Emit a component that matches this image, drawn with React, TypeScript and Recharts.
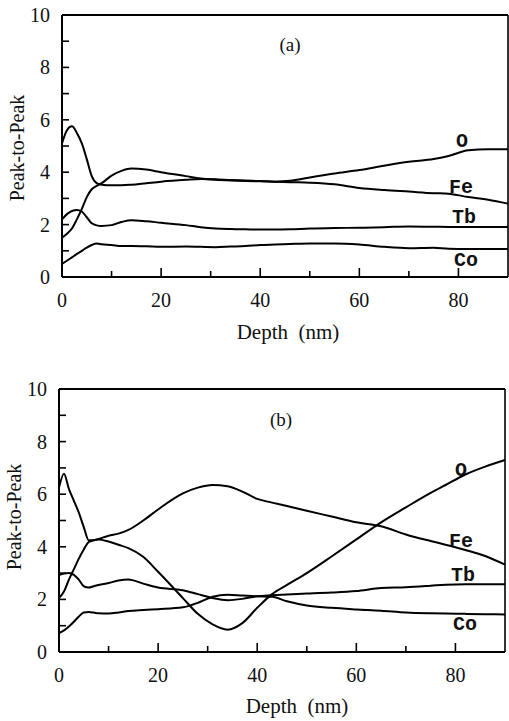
import { LineChart, Line, XAxis, YAxis, ReferenceLine } from "recharts"

const depth = [0, 1, 2, 3, 4, 5, 6, 7, 8, 10, 12, 14, 17, 20, 25, 28, 31, 34, 37, 40, 43, 46, 50, 55, 60, 65, 70, 75, 78, 82, 86, 90]

// panel (a)
const oA = [1.5, 1.65, 1.85, 2.2, 2.6, 3.05, 3.35, 3.48, 3.58, 3.87, 4.05, 4.14, 4.1, 4.0, 3.85, 3.76, 3.71, 3.68, 3.66, 3.65, 3.64, 3.67, 3.8, 3.95, 4.08, 4.25, 4.4, 4.5, 4.62, 4.84, 4.88, 4.88]
const feA = [5.1, 5.6, 5.75, 5.5, 5.1, 4.5, 3.85, 3.58, 3.52, 3.5, 3.5, 3.52, 3.58, 3.64, 3.71, 3.74, 3.73, 3.7, 3.68, 3.66, 3.64, 3.62, 3.6, 3.54, 3.4, 3.32, 3.26, 3.2, 3.18, 3.05, 2.95, 2.8]
const tbA = [2.2, 2.4, 2.52, 2.56, 2.5, 2.28, 2.05, 1.97, 1.95, 1.98, 2.1, 2.17, 2.13, 2.07, 1.98, 1.9, 1.85, 1.83, 1.82, 1.81, 1.81, 1.82, 1.85, 1.87, 1.88, 1.9, 1.93, 1.92, 1.91, 1.91, 1.91, 1.91]
const coA = [0.5, 0.62, 0.75, 0.88, 1.0, 1.12, 1.22, 1.28, 1.25, 1.22, 1.18, 1.18, 1.17, 1.15, 1.16, 1.15, 1.14, 1.16, 1.18, 1.22, 1.24, 1.26, 1.28, 1.28, 1.24, 1.15, 1.1, 1.12, 1.08, 1.07, 1.07, 1.07]

// panel (b)
const oB = [2.05, 2.3, 2.75, 3.15, 3.55, 3.9, 4.18, 4.25, 4.28, 4.2, 4.08, 3.95, 3.62, 3.05, 2.05, 1.45, 1.05, 0.85, 1.1, 1.68, 2.2, 2.55, 3.0, 3.63, 4.28, 4.93, 5.5, 6.05, 6.35, 6.75, 7.05, 7.3]
const feB = [6.25, 6.78, 6.2, 5.75, 5.3, 4.75, 4.25, 4.25, 4.3, 4.42, 4.5, 4.64, 5.0, 5.42, 6.03, 6.25, 6.35, 6.3, 6.1, 5.82, 5.68, 5.55, 5.37, 5.15, 4.93, 4.78, 4.47, 4.22, 4.08, 3.88, 3.65, 3.32]
const tbB = [2.93, 2.98, 3.0, 2.93, 2.75, 2.5, 2.45, 2.5, 2.55, 2.62, 2.72, 2.76, 2.6, 2.45, 2.35, 2.2, 2.05, 1.97, 2.02, 2.12, 2.16, 2.19, 2.22, 2.26, 2.32, 2.43, 2.46, 2.52, 2.56, 2.58, 2.58, 2.58]
const coB = [0.72, 0.82, 0.97, 1.15, 1.35, 1.5, 1.52, 1.5, 1.47, 1.46, 1.5, 1.56, 1.6, 1.63, 1.7, 1.87, 2.1, 2.18, 2.15, 2.12, 2.1, 1.93, 1.77, 1.68, 1.62, 1.57, 1.5, 1.47, 1.46, 1.45, 1.44, 1.43]

const xTicks = [0, 10, 20, 30, 40, 50, 60, 70, 80]
const xLabels = [0, 20, 40, 60, 80]
const yTicks = [0, 1, 2, 3, 4, 5, 6, 7, 8, 9, 10]
const yLabels = [0, 2, 4, 6, 8, 10]

const serifStyle = { fontFamily: "Liberation Serif, Times New Roman, DejaVu Serif, serif" }
const monoStyle = { fontFamily: "Liberation Mono, Courier New, DejaVu Sans Mono, monospace", fontWeight: 700 }

function rows(o: number[], fe: number[], tb: number[], co: number[]) {
  return depth.map((d, i) => ({ depth: d, o: o[i], fe: fe[i], tb: tb[i], co: co[i] }))
}

function makeXTick(axisY: number) {
  return (props: any) => {
    const { x, payload } = props
    const v = payload.value
    const len = v % 20 === 0 ? 9 : 6
    return (
      <g>
        {v !== 0 && <line x1={x} x2={x} y1={axisY} y2={axisY - len} stroke="#000" strokeWidth={1.6} />}
        {xLabels.includes(v) && (
          <text x={x} y={axisY + 30} textAnchor="middle" style={serifStyle} fontSize={20} fill="#111">
            {v}
          </text>
        )}
      </g>
    )
  }
}

function makeYTick(axisX: number, labelRight: number) {
  return (props: any) => {
    const { y, payload } = props
    const v = payload.value
    return (
      <g>
        {v !== 0 && v !== 10 && <line x1={axisX} x2={axisX + 7} y1={y} y2={y} stroke="#000" strokeWidth={1.6} />}
        {yLabels.includes(v) && (
          <text x={labelRight} y={y + 7} textAnchor="end" style={serifStyle} fontSize={20} fill="#111">
            {v}
          </text>
        )}
      </g>
    )
  }
}

interface PanelProps {
  data: Array<Record<string, number>>
  top: number
  height: number
  left: number
  right: number
  plotTop: number
  plotBottom: number
  letter: string
  letterPos: [number, number]
  labels: Array<[string, number, number]>
  titleX: [number, number]
  titleY: [number, number]
}

function Panel({ data, top, height, left, right, plotTop, plotBottom, letter, letterPos, labels, titleX, titleY }: PanelProps) {
  const keys = ["o", "fe", "tb", "co"]
  return (
    <div style={{ position: "absolute", left: 0, top, width: 509, height }}>
      <LineChart
        width={509}
        height={height}
        data={data}
        margin={{ top: plotTop, right: 509 - right, left: 0, bottom: height - plotBottom - 30 }}
      >
        <XAxis
          dataKey="depth"
          type="number"
          domain={[0, 90]}
          ticks={xTicks}
          height={30}
          axisLine={{ stroke: "#000", strokeWidth: 2 }}
          tickLine={false}
          tick={makeXTick(plotBottom)}
          interval={0}
        />
        <YAxis
          type="number"
          domain={[0, 10]}
          ticks={yTicks}
          width={left}
          axisLine={{ stroke: "#000", strokeWidth: 2 }}
          tickLine={false}
          tick={makeYTick(left, left - 12)}
          interval={0}
        />
        <ReferenceLine y={10} stroke="#000" strokeWidth={2} />
        <ReferenceLine x={90} stroke="#000" strokeWidth={1.6} />
        {keys.map((k) => (
          <Line key={k} type="monotone" dataKey={k} stroke="#000" strokeWidth={2} dot={false} isAnimationActive={false} />
        ))}
        <text x={letterPos[0]} y={letterPos[1]} textAnchor="middle" style={serifStyle} fontSize={19} fill="#111">
          {letter}
        </text>
        {labels.map(([t, x, y]) => (
          <text key={t} x={x} y={y} textAnchor="middle" style={monoStyle} fontSize={20} fill="#111">
            {t}
          </text>
        ))}
        <text x={titleX[0]} y={titleX[1]} textAnchor="middle" style={serifStyle} fontSize={21} fill="#111" xmlSpace="preserve">
          Depth  (nm)
        </text>
        <text
          x={titleY[0]}
          y={titleY[1]}
          textAnchor="middle"
          style={serifStyle}
          fontSize={20}
          fill="#111"
          transform={`rotate(-90 ${titleY[0]} ${titleY[1]})`}
        >
          Peak-to-Peak
        </text>
      </LineChart>
    </div>
  )
}

export default function App() {
  return (
    <div style={{ position: "absolute", left: 0, top: 0, width: 509, height: 721, background: "#fff" }}>
      <Panel
        data={rows(oA, feA, tbA, coA)}
        top={0}
        height={360}
        left={62}
        right={508}
        plotTop={15}
        plotBottom={277}
        letter="(a)"
        letterPos={[290, 51]}
        labels={[["O", 462, 147], ["Fe", 461, 193], ["Tb", 464, 223], ["Co", 466, 266]]}
        titleX={[288, 339]}
        titleY={[24, 148]}
      />
      <Panel
        data={rows(oB, feB, tbB, coB)}
        top={360}
        height={361}
        left={59}
        right={505}
        plotTop={29}
        plotBottom={292}
        letter="(b)"
        letterPos={[281, 66]}
        labels={[["O", 461, 116], ["Fe", 461, 187], ["Tb", 463, 221], ["Co", 465, 270]]}
        titleX={[297, 353]}
        titleY={[21, 157]}
      />
    </div>
  )
}
